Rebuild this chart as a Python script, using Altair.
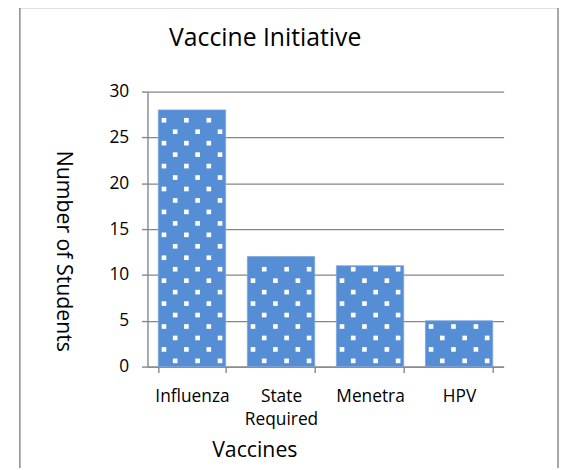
import altair as alt
import pandas as pd

# ---- data ----
categories = ["Influenza", "State Required", "Menetra", "HPV"]
students = [28, 12, 11, 5]
y_ticks = [0, 5, 10, 15, 20, 25, 30]

title_text = "Vaccine Initiative"
x_title = "Vaccines"
y_title = "Number of Students"

FONT = "Open Sans"
BAR = "#558ED5"
GRID = "#868686"

bars = pd.DataFrame({"vaccine": categories, "students": students})

# white dotted pattern fill (decoration derived from bar heights)
ROW = 1.25
NCOL = 6
rows = []
for cat, v in zip(categories, students):
    k = 0
    while (k + 0.5) * ROW < v - 0.3:
        for col in range(NCOL):
            if (col + k) % 2 == 1:
                rows.append({"vaccine": cat, "y": (k + 0.5) * ROW, "col": col})
        k += 1
dots = pd.DataFrame(rows)

x_enc = alt.X(
    "vaccine:N",
    sort=categories,
    scale=alt.Scale(paddingInner=0.244, paddingOuter=0.122),
    axis=alt.Axis(
        title=x_title,
        labelAngle=0,
        labelExpr="split(datum.label, ' ')",
        labelLineHeight=24,
        labelFontSize=17.5,
        labelPadding=15,
        labelOverlap=False,
        tickBand="extent",
        tickSize=6,
        tickColor=GRID,
        tickWidth=1.4,
        domainColor=GRID,
        domainWidth=1.4,
        grid=False,
        titleFontSize=21.5,
        titleX=108,
        titleY=91,
        titleAlign="center",
        titleBaseline="alphabetic",
    ),
)

y_enc = alt.Y(
    "students:Q",
    scale=alt.Scale(domain=[0, 30], nice=False),
    axis=alt.Axis(
        title=y_title,
        values=y_ticks,
        labelFontSize=17.5,
        labelPadding=13,
        tickSize=6,
        tickColor=GRID,
        tickWidth=1.4,
        domainColor=GRID,
        domainWidth=1.4,
        grid=True,
        gridColor=GRID,
        gridWidth=1.4,
        titleFontSize=21.5,
        titleAngle=90,
        titleX=-92,
        titleY=161,
        titleAlign="center",
        titleBaseline="alphabetic",
    ),
)

bar_layer = alt.Chart(bars).mark_bar(color=BAR, stroke="#7AA5DE", strokeWidth=0.8).encode(
    x=x_enc, y=y_enc
)

dot_layers = []
for c in range(NCOL):
    dot_layers.append(
        alt.Chart(dots)
        .transform_filter(alt.datum.col == c)
        .mark_square(color="white", opacity=1, size=22)
        .encode(
            x=alt.X("vaccine:N", sort=categories, bandPosition=(c + 0.5) / NCOL),
            y=alt.Y("y:Q"),
        )
    )

frame = alt.Chart(alt.Data(values=[{"f": 1}])).mark_rect(
    fillOpacity=0, stroke="#898989", strokeWidth=1.5
).encode(
    x=alt.value(-129), x2=alt.value(415), y=alt.value(-85), y2=alt.value(400)
)

top_tick = alt.Chart(alt.Data(values=[{"f": 1}])).mark_rule(
    color="#555555", strokeWidth=1.5
).encode(x=alt.value(133), y=alt.value(-95), y2=alt.value(-85))

title_mark = alt.Chart(alt.Data(values=[{"t": title_text}])).mark_text(
    font=FONT, fontSize=25, color="black", align="center", baseline="alphabetic"
).encode(x=alt.value(119), y=alt.value(-46), text="t:N")

chart = (
    alt.layer(frame, bar_layer, *dot_layers, top_tick, title_mark)
    .properties(
        width=360,
        height=278,
        autosize=alt.AutoSizeParams(type="none"),
        padding={"left": 141, "top": 82, "right": 56, "bottom": 100},
        background="white",
    )
    .configure_view(stroke=None)
    .configure_axis(
        labelFont=FONT,
        titleFont=FONT,
        labelColor="black",
        titleColor="black",
        titleFontWeight="normal",
    )
)

chart.save("out.html", embed_options={"renderer": "svg", "actions": False})
